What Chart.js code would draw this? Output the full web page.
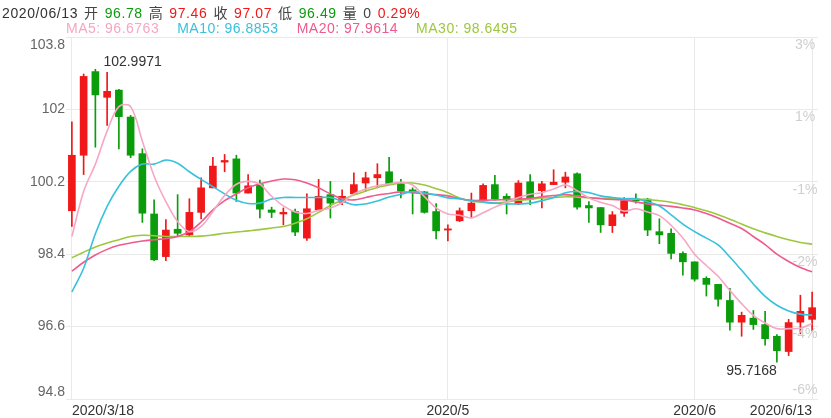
<!DOCTYPE html>
<html>
<head>
<meta charset="utf-8">
<script src="https://cdn.jsdelivr.net/npm/chart.js@4.4.1/dist/chart.umd.min.js"></script>
<style>
  html, body { margin: 0; padding: 0; background: #fff; }
  #wrap { position: relative; width: 831px; height: 418px; }
  #kline { position: absolute; left: 0; top: 0; }
  .hd { position: absolute; left: 2px; font: 14px Arial, "Liberation Sans", "Noto Sans CJK SC", sans-serif; white-space: nowrap; color: #444; letter-spacing: 0.6px; }
  #hd1 { top: 2px; }
  #hd1 span { margin-right: 6px; }
  #hd2 { top: 20px; left: 66px; letter-spacing: 0.5px; }
  #hd2 span { margin-right: 18px; }
  .r { color: #f01818; }
  .g { color: #0b9c0b; }
</style>
</head>
<body>
<div id="wrap">
  <canvas id="kline" width="831" height="418"></canvas>
  <div class="hd" id="hd1"></div>
  <div class="hd" id="hd2"></div>
</div>
<script>
const dates = [
  '2020/3/18','2020/3/19','2020/3/20','2020/3/23','2020/3/24','2020/3/25','2020/3/26','2020/3/27','2020/3/30','2020/3/31',
  '2020/4/1','2020/4/2','2020/4/3','2020/4/6','2020/4/7','2020/4/8','2020/4/9','2020/4/10','2020/4/13','2020/4/14',
  '2020/4/15','2020/4/16','2020/4/17','2020/4/20','2020/4/21','2020/4/22','2020/4/23','2020/4/24','2020/4/27','2020/4/28',
  '2020/4/29','2020/4/30','2020/5/1','2020/5/4','2020/5/5','2020/5/6','2020/5/7','2020/5/8','2020/5/11','2020/5/12',
  '2020/5/13','2020/5/14','2020/5/15','2020/5/18','2020/5/19','2020/5/20','2020/5/21','2020/5/22','2020/5/25','2020/5/26',
  '2020/5/27','2020/5/28','2020/5/29','2020/6/1','2020/6/2','2020/6/3','2020/6/4','2020/6/5','2020/6/8','2020/6/9',
  '2020/6/10','2020/6/11','2020/6/12','2020/6/13'
];

const open = [
  99.48,100.86,102.94,102.30,102.48,101.81,100.90,99.40,98.34,99.02,
  98.88,99.44,100.05,100.69,100.77,99.92,100.13,99.50,99.40,99.46,
  98.80,99.50,99.88,99.69,99.90,100.17,100.30,100.45,100.15,100.00,
  99.95,99.46,99.00,99.23,99.48,99.75,100.13,99.84,99.65,100.20,
  99.98,100.13,100.19,100.40,99.61,99.56,99.11,99.42,99.77,99.77,
  98.96,98.92,98.42,98.21,97.80,97.65,97.25,96.71,96.81,96.65,
  96.36,95.98,96.71,96.78
];
const high = [
  101.69,102.88,102.9971,102.92,102.50,101.85,101.02,99.75,99.26,99.88,
  99.78,100.30,100.81,100.88,100.86,100.38,100.24,99.57,99.55,99.52,
  99.90,100.26,100.21,100.00,100.42,100.44,100.65,100.81,100.26,100.05,
  99.96,99.66,99.13,99.55,99.92,100.15,100.36,99.90,100.23,100.38,
  100.21,100.50,100.44,100.42,99.71,99.56,99.46,99.81,99.90,99.79,
  99.28,99.03,98.46,98.21,97.84,97.65,97.55,96.96,97.00,96.98,
  96.40,96.78,97.38,97.46
];
const low = [
  99.09,100.38,101.06,101.60,101.02,100.80,99.19,98.24,98.24,98.84,
  98.84,99.28,100.05,100.45,99.71,99.92,99.30,99.31,99.13,98.86,
  98.74,99.50,99.30,99.63,99.88,99.96,100.05,100.13,99.80,99.40,
  99.42,98.78,98.73,99.21,99.31,99.75,99.75,99.40,99.63,99.63,
  99.55,100.13,100.05,99.52,99.19,98.94,98.94,99.34,99.67,98.86,
  98.66,98.28,97.88,97.73,97.36,97.11,96.51,96.36,96.53,96.14,
  95.7168,95.88,96.42,96.49
];
const close = [
  100.86,102.82,102.36,102.45,101.82,100.86,99.42,98.26,99.00,98.92,
  99.44,100.05,100.59,100.73,99.92,100.10,99.52,99.44,99.44,98.95,
  99.53,99.84,99.67,99.84,100.13,100.30,100.38,100.15,99.98,99.94,
  99.44,98.98,99.03,99.48,99.67,100.11,99.78,99.75,100.17,99.80,
  100.15,100.19,100.32,99.57,99.55,99.13,99.38,99.73,99.73,99.00,
  98.88,98.42,98.21,97.78,97.65,97.28,96.71,96.88,96.65,96.30,
  96.00,96.70,96.98,97.07
];

const ma5 = [
  98.84,99.96,100.64,101.46,102.07,102.07,101.21,100.34,99.71,99.21,
  98.96,99.09,99.46,99.86,100.14,100.21,100.14,99.84,99.60,99.45,
  99.41,99.49,99.55,99.68,99.90,100.02,100.10,100.15,100.19,100.12,
  99.83,99.55,99.40,99.37,99.30,99.43,99.57,99.69,99.81,99.89,
  99.93,100.02,100.12,99.98,99.80,99.69,99.61,99.47,99.53,99.45,
  99.36,99.12,98.80,98.40,98.12,97.85,97.50,97.17,96.88,96.69,
  96.55,96.55,96.56,96.6763
];
const ma10 = [
  97.46,98.05,98.91,99.59,100.09,100.46,100.64,100.64,100.74,100.66,
  100.45,100.26,100.08,99.90,99.74,99.66,99.67,99.77,99.81,99.81,
  99.81,99.81,99.81,99.72,99.63,99.65,99.72,99.82,99.89,99.96,
  99.92,99.87,99.80,99.78,99.73,99.70,99.67,99.65,99.65,99.67,
  99.73,99.81,99.93,99.96,99.93,99.85,99.81,99.78,99.78,99.70,
  99.60,99.38,99.15,98.96,98.80,98.63,98.33,98.00,97.66,97.35,
  97.13,96.99,96.91,96.8853
];
const ma20 = [
  97.98,98.20,98.38,98.52,98.62,98.68,98.73,98.76,98.79,98.84,
  98.96,99.20,99.50,99.73,99.90,100.05,100.15,100.22,100.27,100.25,
  100.17,100.05,99.90,99.78,99.75,99.81,99.87,99.91,99.95,99.93,
  99.90,99.88,99.85,99.78,99.74,99.74,99.75,99.76,99.77,99.79,
  99.83,99.86,99.88,99.85,99.81,99.78,99.76,99.75,99.70,99.65,
  99.62,99.59,99.55,99.50,99.41,99.30,99.17,99.04,98.84,98.64,
  98.40,98.22,98.07,97.9614
];
const ma30 = [
  98.31,98.45,98.58,98.68,98.76,98.84,98.87,98.86,98.84,98.84,
  98.84,98.85,98.88,98.92,98.95,98.98,99.01,99.05,99.09,99.17,
  99.28,99.44,99.61,99.75,99.87,99.97,100.06,100.12,100.17,100.17,
  100.12,100.03,99.93,99.80,99.72,99.69,99.67,99.70,99.74,99.76,
  99.80,99.81,99.83,99.82,99.80,99.79,99.78,99.77,99.77,99.76,
  99.73,99.69,99.63,99.56,99.48,99.38,99.27,99.15,99.03,98.93,
  98.84,98.76,98.69,98.6495
];

const yTicks = [94.8, 96.6, 98.4, 100.2, 102, 103.8];
const pctLabels = ['-6%', '-4%', '-2%', '-1%', '1%', '3%'];
const xTickAt = [0, 32, 53, 63];
const xTickText = ['2020/3/18', '2020/5', '2020/6', '2020/6/13'];
const lastDate = '2020/06/13';
const lastVolume = 0;
const lastChange = '0.29%';

const RED = '#f01818';
const GREEN = '#0b9c0b';
const FONT = 'Arial, "Liberation Sans", sans-serif';
const maColors = ['#f7a6c4', '#38c1dc', '#ee5b8c', '#9dc73e'];

const up = close.map((c, i) => c >= open[i]);
const candleColors = up.map(u => u ? RED : GREEN);

// header lines
const n = close.length - 1;
const tok = (t, cls) => '<span' + (cls ? ' class="' + cls + '"' : '') + '>' + t + '</span>';
document.getElementById('hd1').innerHTML = [
  '<span style="color:#333">' + lastDate + '</span>',
  tok('开'), tok(open[n].toFixed(2), 'g'),
  tok('高'), tok(high[n].toFixed(2), 'r'),
  tok('收'), tok(close[n].toFixed(2), 'r'),
  tok('低'), tok(low[n].toFixed(2), 'g'),
  tok('量'), tok(lastVolume), tok(lastChange, 'r')
].join('');
document.getElementById('hd2').innerHTML = [['MA5', ma5], ['MA10', ma10], ['MA20', ma20], ['MA30', ma30]]
  .map((m, i) => '<span style="color:' + maColors[i] + '">' + m[0] + ': ' + m[1][n].toFixed(4) + '</span>').join('');

// y labels on both sides and the max / min marks
const extraText = {
  id: 'extraText',
  afterDraw(chart) {
    const { ctx, chartArea: a, scales: { x, y } } = chart;
    ctx.save();
    ctx.font = '14px ' + FONT;
    ctx.textBaseline = 'middle';
    yTicks.forEach((v, i) => {
      const py = y.getPixelForValue(v);
      ctx.fillStyle = '#666';
      ctx.textAlign = 'right';
      ctx.fillText(String(v), a.left - 1, Math.min(Math.max(py, a.top + 8), a.bottom - 7));
      ctx.fillStyle = '#cfcfcf';
      ctx.textAlign = 'center';
      ctx.fillText(pctLabels[i], a.right - 13, Math.min(py + 8, a.bottom - 9));
    });

    const hi = high.indexOf(Math.max(...high));
    const lo = low.indexOf(Math.min(...low));
    ctx.fillStyle = '#333';
    ctx.textAlign = 'left';
    ctx.fillText(high[hi].toFixed(4), x.getPixelForValue(hi) + 8, y.getPixelForValue(high[hi]) - 7);
    ctx.textAlign = 'right';
    ctx.fillText(low[lo].toFixed(4), x.getPixelForValue(lo), y.getPixelForValue(low[lo]) + 9);
    ctx.restore();
  }
};

const maLine = (data, color) => ({
  type: 'line',
  data: data,
  borderColor: color,
  borderWidth: 1.6,
  pointRadius: 0,
  tension: 0.35,
  order: 1
});

new Chart(document.getElementById('kline'), {
  type: 'bar',
  data: {
    labels: dates,
    datasets: [
      maLine(ma5, maColors[0]),
      maLine(ma10, maColors[1]),
      maLine(ma20, maColors[2]),
      maLine(ma30, maColors[3]),
      {
        data: low.map((l, i) => [l, high[i]]),
        backgroundColor: candleColors,
        barThickness: 1,
        grouped: false,
        order: 3
      },
      {
        data: open.map((o, i) => [o, close[i]]),
        backgroundColor: candleColors,
        barThickness: 7,
        minBarLength: 1,
        grouped: false,
        order: 2
      }
    ]
  },
  options: {
    responsive: false,
    animation: false,
    layout: { padding: { left: 66, right: 13, top: 37, bottom: 0 } },
    plugins: {
      legend: { display: false },
      tooltip: { enabled: false }
    },
    scales: {
      x: {
        offset: true,
        border: { display: false },
        afterFit: s => { s.height = 19; },
        grid: {
          offset: false,
          drawTicks: false,
          color: c => xTickAt.includes(c.index) ? '#e9e9e9' : 'rgba(0,0,0,0)'
        },
        ticks: {
          autoSkip: false,
          maxRotation: 0,
          align: 'inner',
          padding: 4,
          color: '#333',
          font: { size: 14, family: FONT },
          callback: (v, i) => {
            const k = xTickAt.indexOf(i);
            return k >= 0 ? xTickText[k] : '';
          }
        }
      },
      y: {
        min: 94.8,
        max: 103.8,
        afterBuildTicks: s => { s.ticks = yTicks.map(v => ({ value: v })); },
        afterFit: s => { s.width = 0; },
        border: { display: false },
        grid: { color: '#e9e9e9', drawTicks: false },
        ticks: { display: false }
      }
    }
  },
  plugins: [extraText]
});
</script>
</body>
</html>
